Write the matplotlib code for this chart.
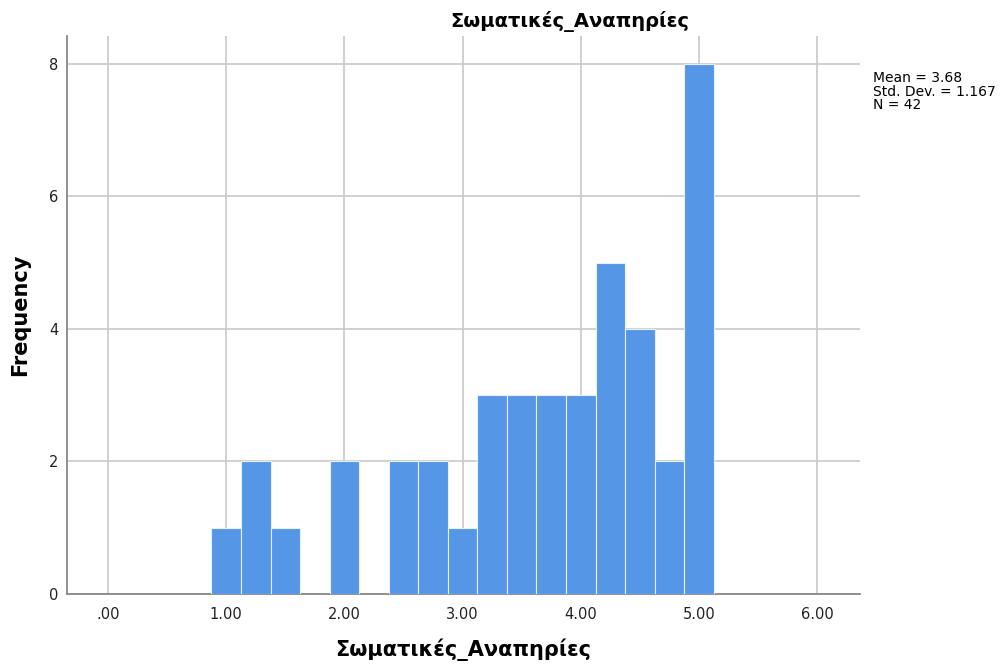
import matplotlib
matplotlib.use("Agg")
import matplotlib.pyplot as plt

bin_centers = [1.0, 1.25, 1.5, 1.75, 2.0, 2.25, 2.5, 2.75, 3.0, 3.25, 3.5, 3.75, 4.0, 4.25, 4.5, 4.75, 5.0]
counts = [1, 2, 1, 0, 2, 0, 2, 2, 1, 3, 3, 3, 3, 5, 4, 2, 8]
x_ticks = [0, 1, 2, 3, 4, 5, 6]
x_tick_labels = [".00", "1.00", "2.00", "3.00", "4.00", "5.00", "6.00"]
y_ticks = [0, 2, 4, 6, 8]
title = "Σωματικές_Αναπηρίες"
stats_text = "Mean = 3.68\nStd. Dev. = 1.167\nN = 42"

plt.rcParams['font.family'] = ['DejaVu Sans']
fig = plt.figure(figsize=(10.02, 6.66), dpi=100)
ax = fig.add_axes([0.0669, 0.1081, 0.858 - 0.0669, 0.9459 - 0.1081])

nz = [(c, n) for c, n in zip(bin_centers, counts) if n > 0]
ax.bar([c for c, _ in nz], [n for _, n in nz], width=0.25, color="#5596E6",
       edgecolor="#E8F0FA", linewidth=0.8, zorder=3)
ax.set_xlim(-0.347, 6.36)
ax.set_ylim(0, 8.42)
ax.set_xticks(x_ticks)
ax.set_xticklabels(x_tick_labels)
ax.set_yticks(y_ticks)
ax.tick_params(axis='both', length=0, labelsize=10.5, colors="#222222")
ax.tick_params(axis='x', pad=9)
ax.tick_params(axis='y', pad=6)
ax.grid(True, color="#C8C8C8", linewidth=1.2, zorder=0)
ax.set_axisbelow(True)
for s in ["top", "right"]:
    ax.spines[s].set_visible(False)
for s in ["left", "bottom"]:
    ax.spines[s].set_color("#888888")
    ax.spines[s].set_linewidth(1.3)

ax.set_xlabel(title, fontsize=15, fontweight="bold", labelpad=12)
fig.text(0.020, 0.527, "Frequency", rotation=90, ha="center", va="center",
         fontsize=15, fontweight="bold")
fig.text(0.569, 0.968, title, ha="center", va="center", fontsize=14, fontweight="bold")
fig.text(0.871, 0.893, stats_text, ha="left", va="top", fontsize=10, linespacing=0.95)

fig.savefig("out.png", dpi=100)
